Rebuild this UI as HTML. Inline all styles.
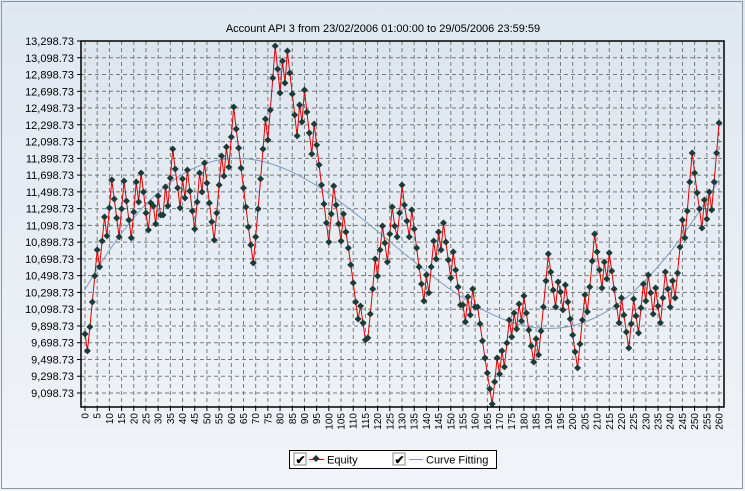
<!DOCTYPE html>
<html><head><meta charset="utf-8"><style>
html,body{margin:0;padding:0;background:#e4ebf2;}
svg{display:block;font-family:"Liberation Sans",sans-serif;}
</style></head><body>
<svg id="chart" width="745" height="491">
<defs>
<linearGradient id="bg" x1="0" y1="0" x2="0" y2="1"><stop offset="0" stop-color="#dfe7f0"/><stop offset="1" stop-color="#f1f4f8"/></linearGradient>
<linearGradient id="pg" x1="0" y1="0" x2="0" y2="1"><stop offset="0" stop-color="#dce5ee"/><stop offset="1" stop-color="#eef2f7"/></linearGradient>
</defs>
<rect x="0" y="0" width="745" height="491" fill="url(#bg)"/>
<rect x="1.5" y="1.5" width="741" height="487" fill="none" stroke="#8a96a3"/>
<text x="383" y="32" font-size="11" text-anchor="middle" fill="#000">Account API 3 from 23/02/2006 01:00:00 to 29/05/2006 23:59:59</text>
<rect x="81" y="41" width="643" height="366" fill="url(#pg)"/>
<g id="grid"></g>
<g id="yaxis"></g>
<g id="xaxis"></g>
<g id="fit"></g>
<g id="series"></g>
<rect x="81" y="41" width="643" height="366" fill="none" stroke="#000" stroke-width="1.5"/>
<g>
<rect x="289.5" y="450.5" width="207" height="18" fill="#fff" stroke="#000"/>
<g>
<rect x="294" y="453" width="12" height="12" fill="#fff" stroke="#888"/>
<text x="295.5" y="464" font-size="12" font-weight="bold">✔</text>
<line x1="309" y1="459.5" x2="324" y2="459.5" stroke="#e00000"/>
<rect x="313.5" y="456" width="5" height="5" fill="#1d3b37" transform="rotate(45 316 458.5)"/>
<text x="327" y="463.5" font-size="11">Equity</text>
</g>
<g>
<rect x="393" y="453" width="12" height="12" fill="#fff" stroke="#888"/>
<text x="394.5" y="464" font-size="12" font-weight="bold">✔</text>
<line x1="409" y1="459.5" x2="423" y2="459.5" stroke="#7f9cc0"/>
<text x="426" y="463.5" font-size="11">Curve Fitting</text>
</g>
</g>
</svg>
<script>
var equity = [9803,9601,9887,10185,10495,10806,10603,10913,11199,10973,11307,11641,11414,11187,10961,11295,11629,11390,11163,10949,11259,11617,11378,11724,11497,11247,11044,11366,11330,11116,11450,11223,11223,11557,11330,11664,12010,11772,11545,11307,11653,11426,11760,11509,11271,11056,11378,11724,11497,11843,11605,11366,11140,10925,11247,11581,11927,11688,12034,11796,12154,12511,12249,12022,11784,11545,11318,11080,10865,
10650,10961,11295,11653,12010,12368,12118,12476,12857,13239,12965,12679,13060,12798,13180,12917,12667,12416,12166,12535,12333,12714,12452,12201,11951,12309,12058,11820,11581,11354,11128,10901,11235,11569,11342,11116,10913,11235,11020,10829,10627,10412,10185,9982,10137,9935,9732,9756,10042,10340,10698,10495,10806,11092,10889,10662,10996,11318,11092,10961,11247,11581,11342,11151,10961,
11283,11056,10829,10603,10400,10197,10507,10293,10603,10913,10698,11020,10806,11128,10901,10686,10471,10782,10567,10364,10149,10149,9947,10245,10030,10340,10125,10125,9923,9720,9517,9338,9147,8968,9231,9517,9326,9601,9410,9696,9970,9768,10054,9863,10161,9958,10257,10054,9851,9660,9469,9744,9553,9839,10125,10436,10758,10543,10328,10125,10424,10304,10090,10388,10185,9982,
9791,9589,9398,9684,9970,10269,10066,10364,10674,10996,10782,10567,10352,10662,10460,10770,10555,10340,10137,9935,10233,10030,9827,9636,9923,10221,10018,9815,10114,10400,10197,10507,10293,10042,10352,10137,9935,10233,10543,10340,10125,10436,10233,10531,10841,11163,10949,11271,11617,11963,11724,11486,11295,11068,11402,11175,11497,11283,11617,11963,12321];
var yTickValues = [9098.73,9298.73,9498.73,9698.73,9898.73,10098.73,10298.73,10498.73,10698.73,10898.73,11098.73,11298.73,11498.73,11698.73,11898.73,12098.73,12298.73,12498.73,12698.73,12898.73,13098.73,13298.73];
var yTickLabels = ["9,098.73","9,298.73","9,498.73","9,698.73","9,898.73","10,098.73","10,298.73","10,498.73","10,698.73","10,898.73","11,098.73","11,298.73","11,498.73","11,698.73","11,898.73","12,098.73","12,298.73","12,498.73","12,698.73","12,898.73","13,098.73","13,298.73"];
var xTickStep = 5;
var NS = "http://www.w3.org/2000/svg";
function X(i){ return 85 + i * (634/260); }
function Y(v){ return 41 + (13298.73 - v) * (352/4200); }
function mk(tag, attrs, parent){ var e=document.createElementNS(NS,tag); for(var k in attrs) e.setAttribute(k, attrs[k]); parent.appendChild(e); return e; }
var grid=document.getElementById('grid'), yax=document.getElementById('yaxis'), xax=document.getElementById('xaxis');
yTickValues.forEach(function(v,k){
  var y=Y(v);
  var gl=mk('line',{x1:81,x2:724,y1:y,y2:y,stroke:'#7a7a7a','stroke-dasharray':'4,3','stroke-width':1},grid);
  
  
  var tk=mk('line',{x1:77,x2:81,y1:y,y2:y,stroke:'#000'},yax);
  
  
  var t=mk('text',{x:74,y:y+4,'font-size':11,'text-anchor':'end',fill:'#000'},yax);
  t.textContent=yTickLabels[k];
  
  
});
for(var i=0;i<equity.length;i+=xTickStep){
  var x=X(i);
  var gl=mk('line',{x1:x,x2:x,y1:41,y2:407,stroke:'#7a7a7a','stroke-dasharray':'4,3','stroke-width':1},grid);
  
  
  var tk=mk('line',{x1:x,x2:x,y1:407,y2:411,stroke:'#000'},xax);
  
  
  var t=mk('text',{x:0,y:0,'font-size':10,'text-anchor':'end',fill:'#000',transform:'translate('+(x+3.5)+',413) rotate(-90)'},xax);
  t.textContent=String(i);
  
  
}
// polynomial least-squares curve fit (degree 5)
(function(){
  var n=equity.length, deg=5, m=deg+1;
  var A=[],b=[];
  for(var r=0;r<m;r++){A.push(new Array(m).fill(0)); b.push(0);}
  for(var i=0;i<n;i++){
    var t=2*i/(n-1)-1, p=[1];
    for(var d=1;d<m;d++) p.push(p[d-1]*t);
    for(var r=0;r<m;r++){ b[r]+=p[r]*equity[i]; for(var c=0;c<m;c++) A[r][c]+=p[r]*p[c]; }
  }
  for(var c=0;c<m;c++){
    var piv=c; for(var r=c+1;r<m;r++) if(Math.abs(A[r][c])>Math.abs(A[piv][c])) piv=r;
    var tmp=A[c];A[c]=A[piv];A[piv]=tmp; var tb=b[c];b[c]=b[piv];b[piv]=tb;
    for(var r=0;r<m;r++){ if(r===c) continue; var f=A[r][c]/A[c][c]; for(var k=c;k<m;k++) A[r][k]-=f*A[c][k]; b[r]-=f*b[c]; }
  }
  var coef=b.map(function(v,i){return v/A[i][i];});
  var pts=[];
  for(var i=0;i<n;i++){ var t=2*i/(n-1)-1, v=0, p=1; for(var d=0;d<m;d++){ v+=coef[d]*p; p*=t; } pts.push(X(i).toFixed(1)+','+Y(v).toFixed(1)); }
  var pl=mk('polyline',{points:pts.join(' '),fill:'none',stroke:'#7f9cc0','stroke-width':1},document.getElementById('fit'));
  
  
})();
var sg=document.getElementById('series');
var line=mk('polyline',{points:equity.map(function(v,i){return X(i).toFixed(1)+','+Y(v).toFixed(1);}).join(' '),fill:'none',stroke:'#e00000','stroke-width':1},sg);


equity.forEach(function(v,i){
  var x=X(i), y=Y(v);
  var d=mk('polygon',{points:(x)+','+(y-3.5)+' '+(x+3.5)+','+y+' '+x+','+(y+3.5)+' '+(x-3.5)+','+y,fill:'#1d3b37'},sg);
  
  
});
</script>
</body></html>
